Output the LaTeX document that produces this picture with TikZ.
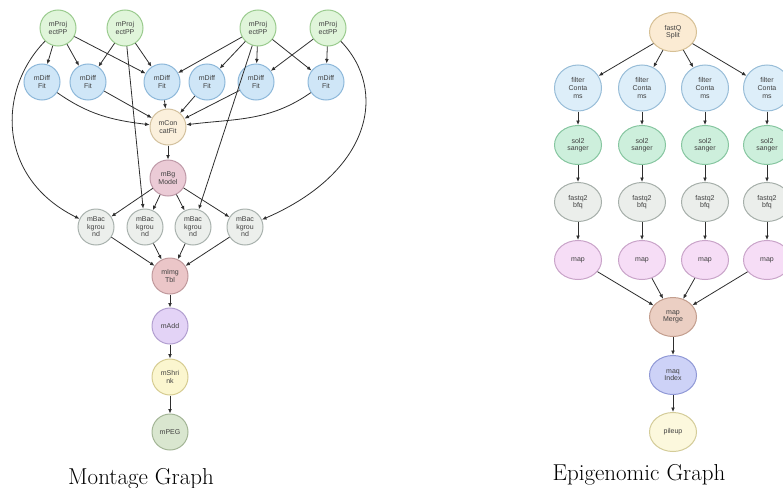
\documentclass[tikz,border=0pt]{standalone}
\usepackage{fontspec}
\usepackage{xcolor}
\usetikzlibrary{shapes.geometric, arrows.meta, positioning}
\newfontfamily\nodefont{Liberation Sans}

\definecolor{projfill}{HTML}{E0F5DA}  \definecolor{projline}{HTML}{9ACB8E}
\definecolor{difffill}{HTML}{CFE6F7}  \definecolor{diffline}{HTML}{8DB8DA}
\definecolor{concfill}{HTML}{FBF0DC}  \definecolor{concline}{HTML}{D3C19E}
\definecolor{modfill}{HTML}{EBCBD6}   \definecolor{modline}{HTML}{BF9AA8}
\definecolor{backfill}{HTML}{ECEFEC}  \definecolor{backline}{HTML}{A9B2AE}
\definecolor{tblfill}{HTML}{EBC6C8}   \definecolor{tblline}{HTML}{C0999C}
\definecolor{addfill}{HTML}{E3D3F6}   \definecolor{addline}{HTML}{B29FD0}
\definecolor{shrfill}{HTML}{FBF6CF}   \definecolor{shrline}{HTML}{D6CC91}
\definecolor{pegfill}{HTML}{D9E6CF}   \definecolor{pegline}{HTML}{A3B596}
\definecolor{splitfill}{HTML}{FBEBD3} \definecolor{splitline}{HTML}{D6C095}
\definecolor{filtfill}{HTML}{DDEEF9}  \definecolor{filtline}{HTML}{98BDD8}
\definecolor{solfill}{HTML}{CDEFDC}   \definecolor{solline}{HTML}{86C6A0}
\definecolor{bfqfill}{HTML}{EBEEEB}   \definecolor{bfqline}{HTML}{A6AFAA}
\definecolor{mapfill}{HTML}{F6DDF6}   \definecolor{mapline}{HTML}{C9A4C9}
\definecolor{mrgfill}{HTML}{EBCFC3}   \definecolor{mrgline}{HTML}{C39E8E}
\definecolor{maqfill}{HTML}{CDD2F7}   \definecolor{maqline}{HTML}{9099D6}
\definecolor{pilefill}{HTML}{FCF8DD}  \definecolor{pileline}{HTML}{D4CC99}
\definecolor{edgecol}{HTML}{2E2E2E}

\tikzset{
    job/.style={circle, draw=#1line, fill=#1fill, line width=1pt, minimum size=36pt,
        inner sep=0pt, align=center, text=black!75,
        font=\nodefont\fontsize{7}{7.6}\selectfont},
    task/.style={ellipse, draw=#1line, fill=#1fill, line width=1pt, minimum width=47pt,
        minimum height=39pt, inner sep=0pt, align=center, text=black!75,
        font=\nodefont\fontsize{7}{7.6}\selectfont},
    flow/.style={draw=edgecol, line width=0.8pt, -{Latex[length=4.5pt, width=3.8pt]}},
    caption/.style={anchor=base, font=\fontsize{23}{26}\selectfont}
}

\begin{document}
\begin{tikzpicture}[x=1pt, y=1pt]
    \useasboundingbox (0,0) rectangle (783,-487);
    \clip (0,0) rectangle (783,-487);

    % Montage: projections
    \node[job=proj] (proj1) at (58,-28) {mProj\\ectPP};
    \node[job=proj] (proj2) at (125,-28) {mProj\\ectPP};
    \node[job=proj] (proj3) at (258,-28) {mProj\\ectPP};
    \node[job=proj] (proj4) at (328,-28) {mProj\\ectPP};

    % Montage: difference fits
    \node[job=diff] (diff1) at (42,-82) {mDiff\\Fit};
    \node[job=diff] (diff2) at (88,-82) {mDiff\\Fit};
    \node[job=diff] (diff3) at (162,-82) {mDiff\\Fit};
    \node[job=diff] (diff4) at (207,-82) {mDiff\\Fit};
    \node[job=diff] (diff5) at (256,-82) {mDiff\\Fit};
    \node[job=diff] (diff6) at (326,-82) {mDiff\\Fit};

    % Montage: fit and model
    \node[job=conc] (concat) at (168,-127) {mCon\\catFit};
    \node[job=mod] (bgmodel) at (168,-178) {mBg\\Model};

    % Montage: backgrounds
    \node[job=back] (back1) at (96,-227) {mBac\\kgrou\\nd};
    \node[job=back] (back2) at (145,-227) {mBac\\kgrou\\nd};
    \node[job=back] (back3) at (193,-227) {mBac\\kgrou\\nd};
    \node[job=back] (back4) at (245,-227) {mBac\\kgrou\\nd};

    % Montage: final chain
    \node[job=tbl] (imgtbl) at (170,-276) {mImg\\Tbl};
    \node[job=add] (madd) at (170,-326) {mAdd};
    \node[job=shr] (shrink) at (170,-377) {mShri\\nk};
    \node[job=peg] (mpeg) at (170,-432) {mPEG};

    % Montage: edges from projections
    \draw[flow] (proj1) -- (diff1);
    \draw[flow] (proj1) -- (diff2);
    \draw[flow] (proj1) -- (diff3);
    \draw[flow] (proj1) .. controls (-3,-90) and (-3,-178) .. (back1);
    \draw[flow] (proj2) -- (diff2);
    \draw[flow] (proj2) -- (diff3);
    \draw[flow] (proj2) -- (back2);
    \draw[flow] (proj3) -- (diff3);
    \draw[flow] (proj3) -- (diff4);
    \draw[flow] (proj3) -- (diff5);
    \draw[flow] (proj3) -- (diff6);
    \draw[flow] (proj3) -- (back3);
    \draw[flow] (proj4) -- (diff5);
    \draw[flow] (proj4) -- (diff6);
    \draw[flow] (proj4) .. controls (388,-90) and (372,-172) .. (back4);

    % Montage: fits into concat
    \draw[flow] (diff1) to[out=-35, in=173] (concat);
    \draw[flow] (diff2) -- (concat);
    \draw[flow] (diff3) -- (concat);
    \draw[flow] (diff4) -- (concat);
    \draw[flow] (diff5) -- (concat);
    \draw[flow] (diff6) to[out=215, in=7] (concat);
    \draw[flow] (concat) -- (bgmodel);

    % Montage: model to backgrounds to table
    \draw[flow] (bgmodel) -- (back1);
    \draw[flow] (bgmodel) -- (back2);
    \draw[flow] (bgmodel) -- (back3);
    \draw[flow] (bgmodel) -- (back4);
    \draw[flow] (back1) -- (imgtbl);
    \draw[flow] (back2) -- (imgtbl);
    \draw[flow] (back3) -- (imgtbl);
    \draw[flow] (back4) -- (imgtbl);
    \draw[flow] (imgtbl) -- (madd);
    \draw[flow] (madd) -- (shrink);
    \draw[flow] (shrink) -- (mpeg);

    \node[caption] (montcap) at (141,-484) {Montage Graph};

    % Epigenomic: split
    \node[task=split] (split) at (673,-32) {fastQ\\Split};

    % Epigenomic: four lanes
    \node[task=filt, minimum height=46pt] (filt1) at (578,-88) {filter\\Conta\\ms};
    \node[task=filt, minimum height=46pt] (filt2) at (642,-88) {filter\\Conta\\ms};
    \node[task=filt, minimum height=46pt] (filt3) at (705,-88) {filter\\Conta\\ms};
    \node[task=filt, minimum height=46pt] (filt4) at (767,-88) {filter\\Conta\\ms};

    \node[task=sol] (sol1) at (578,-145) {sol2\\sanger};
    \node[task=sol] (sol2) at (642,-145) {sol2\\sanger};
    \node[task=sol] (sol3) at (705,-145) {sol2\\sanger};
    \node[task=sol] (sol4) at (767,-145) {sol2\\sanger};

    \node[task=bfq] (bfq1) at (578,-202) {fastq2\\bfq};
    \node[task=bfq] (bfq2) at (642,-202) {fastq2\\bfq};
    \node[task=bfq] (bfq3) at (705,-202) {fastq2\\bfq};
    \node[task=bfq] (bfq4) at (767,-202) {fastq2\\bfq};

    \node[task=map] (map1) at (578,-260) {map};
    \node[task=map] (map2) at (642,-260) {map};
    \node[task=map] (map3) at (705,-260) {map};
    \node[task=map] (map4) at (767,-260) {map};

    % Epigenomic: merge chain
    \node[task=mrg] (merge) at (673,-317) {map\\Merge};
    \node[task=maq] (maqidx) at (673,-375) {maq\\Index};
    \node[task=pile] (pileup) at (673,-432) {pileup};

    % Epigenomic: edges
    \draw[flow] (split) -- (filt1);
    \draw[flow] (split) -- (filt2);
    \draw[flow] (split) -- (filt3);
    \draw[flow] (split) -- (filt4);
    \draw[flow] (filt1) -- (sol1);
    \draw[flow] (filt2) -- (sol2);
    \draw[flow] (filt3) -- (sol3);
    \draw[flow] (filt4) -- (sol4);
    \draw[flow] (sol1) -- (bfq1);
    \draw[flow] (sol2) -- (bfq2);
    \draw[flow] (sol3) -- (bfq3);
    \draw[flow] (sol4) -- (bfq4);
    \draw[flow] (bfq1) -- (map1);
    \draw[flow] (bfq2) -- (map2);
    \draw[flow] (bfq3) -- (map3);
    \draw[flow] (bfq4) -- (map4);
    \draw[flow] (map1) -- (merge);
    \draw[flow] (map2) -- (merge);
    \draw[flow] (map3) -- (merge);
    \draw[flow] (map4) -- (merge);
    \draw[flow] (merge) -- (maqidx);
    \draw[flow] (maqidx) -- (pileup);

    \node[caption] (epicap) at (639,-480) {Epigenomic Graph};
\end{tikzpicture}
\end{document}
